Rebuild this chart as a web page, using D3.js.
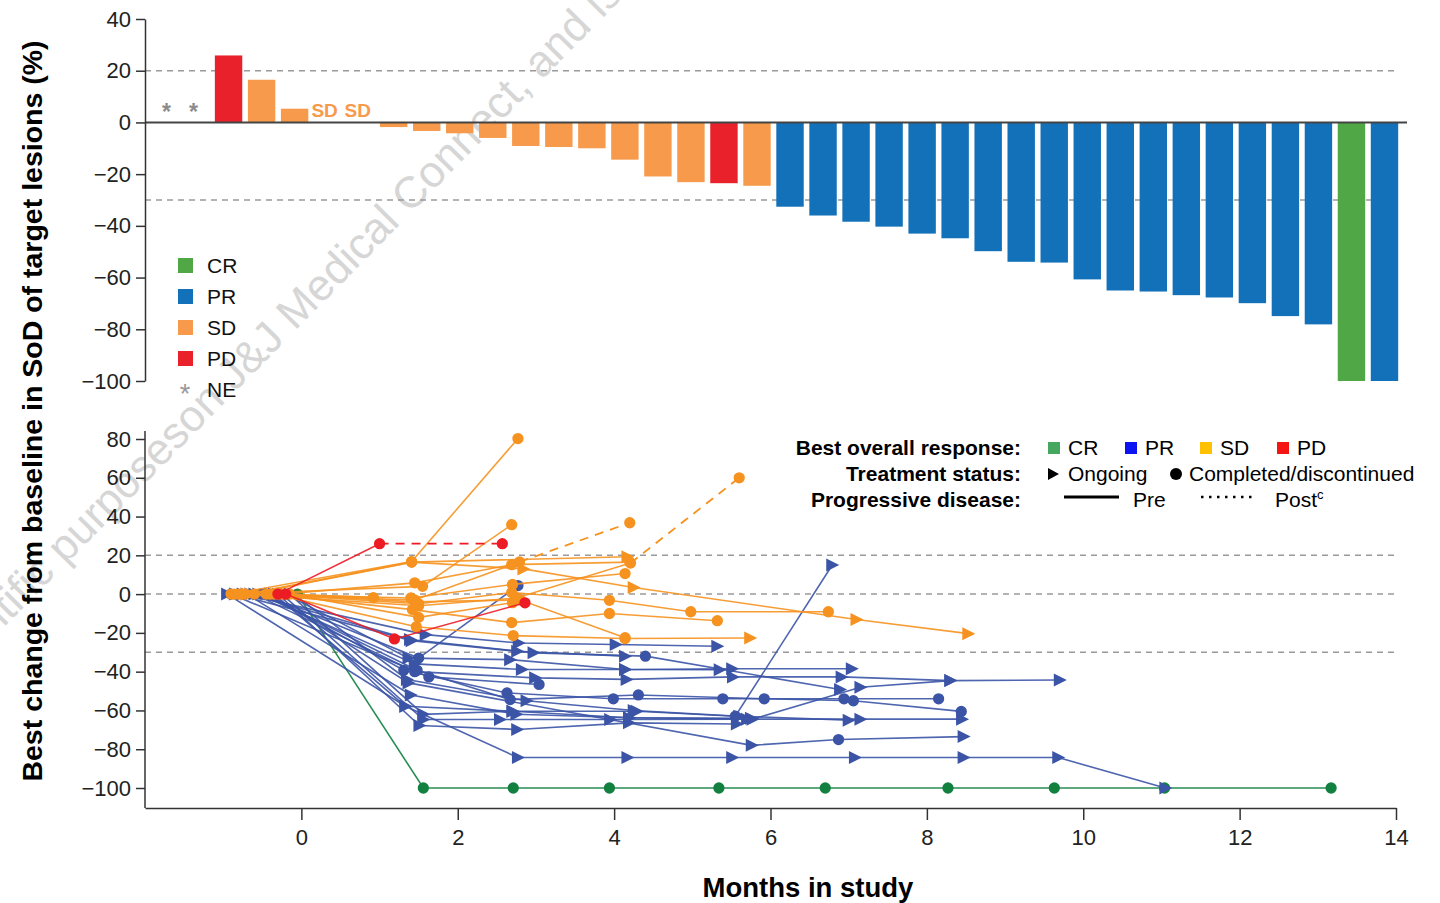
<!DOCTYPE html>
<html>
<head>
  <meta charset="utf-8">
  <script src="https://d3js.org/d3.v7.min.js"></script>
  <style>
    body { margin: 0; background: #fff; }
    text { font-family: "Liberation Sans", Arial, sans-serif; }
  </style>
</head>
<body>
  <div id="chart"></div>
  <script>
    const width = 1440;
    const height = 903;

    // ---- waterfall (top) ----
    const barResp = ["NE", "NE", "PD", "SD", "SD", "SD", "SD",
      "SD", "SD", "SD", "SD", "SD", "SD", "SD", "SD", "SD", "SD", "PD", "SD",
      "PR", "PR", "PR", "PR", "PR", "PR", "PR", "PR", "PR", "PR", "PR", "PR",
      "PR", "PR", "PR", "PR", "PR", "CR", "PR"];
    const barValues = [null, null, 25.9, 16.5, 5.3, null, null,
      -1.8, -3.3, -4.2, -6.0, -9.1, -9.5, -10, -14.4, -20.9, -23.1, -23.5, -24.5,
      -32.6, -36.0, -38.4, -40.3, -43.0, -44.8, -49.8, -53.9, -54.2, -60.7, -65.0, -65.4,
      -66.8, -67.7, -69.9, -74.9, -78.1, -100, -100];
    const barLabels = ["*", "*", "", "", "", "SD", "SD"];
    const topTicks = [40, 20, 0, -20, -40, -60, -80, -100];
    const topRefLines = [20, -30];
    const topLegend = ["CR", "PR", "SD", "PD", "NE"];

    // ---- spider (bottom) ----
    const spiderResp = ["CR",
      "PR", "PR", "PR", "PR", "PR", "PR", "PR", "PR", "PR", "PR", "PR", "PR", "PR", "PR", "PR", "PR", "PR", "PR",
      "SD", "SD", "SD", "SD", "SD", "SD", "SD", "SD", "SD", "SD", "SD", "SD", "SD", "SD",
      "PD", "PD"];
    const spiderMonths = [
      [-0.05, 1.56, 2.71, 3.94, 5.34, 6.70, 8.27, 9.63, 11.04, 13.17],
      [-0.95, 1.33, 2.77, 4.17, 5.51, 7.08, 8.47, 9.68, 11.05],
      [-0.25, 1.56, 2.54, 3.95, 5.7, 7.15, 8.45],
      [-0.3, 1.51, 2.76, 4.19, 5.57],
      [-0.35, 1.33, 2.7, 4.29, 5.55, 6.79],
      [-0.4, 1.37, 5.76, 6.87, 8.47],
      [-0.45, 1.31, 2.63, 3.99, 5.39, 6.94, 8.15],
      [-0.5, 1.48, 2.67, 4.31, 5.92, 7.06, 8.44],
      [-0.55, 1.45, 2.82, 4.14, 5.51, 7.04],
      [-0.6, 1.45, 2.99, 4.16, 5.52, 6.91, 8.3, 9.7],
      [-0.65, 1.39, 2.97, 4.4, 6.89],
      [-0.7, 1.4, 2.75, 4.19, 5.77, 7.15, 8.3],
      [-0.75, 1.59, 2.78, 4.02, 5.32],
      [-0.52, 1.5, 2.77],
      [-0.85, 1.41, 2.76, 4.14],
      [-0.9, 1.63, 3.04],
      [-0.15, 1.56, 2.7, 4.19, 5.75],
      [-0.1, 1.35, 2.88, 4.25, 5.6, 7.0],
      [-0.2, 1.37, 2.67, 4.14, 5.35],
      [-0.9, 1.41, 2.77],
      [-0.85, 1.55, 2.69],
      [-0.8, 1.45, 2.79, 4.2],
      [-0.75, 1.5, 2.75, 4.21, 5.6],
      [-0.7, 1.41, 2.84, 4.25, 7.1, 8.53],
      [-0.65, 1.41, 4.17],
      [-0.6, 1.4, 2.7, 4.14],
      [-0.45, 1.5, 2.69, 3.94, 4.98, 6.74],
      [-0.4, 1.42, 2.69, 3.94, 5.32],
      [-0.35, 1.47, 2.71, 4.14, 5.74],
      [-0.3, 1.45, 2.8, 4.14],
      [-0.25, 1.45, 2.69, 4.2],
      [-0.2, 0.92],
      [-0.15, 1.5, 2.7],
      [-0.3, 1.0, 2.57],
      [-0.2, 1.19, 2.86]
    ];
    const spiderValues = [
      [0, -100, -100, -100, -100, -100, -100, -100, -100, -100],
      [0, -57.8, -84.3, -84.3, -84.3, -84.3, -84.3, -84.3, -100],
      [0, -64.7, -64.7, -64.7, -64.5, -64.5, -64.5],
      [0, -67.8, -69.8, -66.4, -67],
      [0, -57.8, -60.4, -60.4, -63, 15],
      [0, -45.8, -78, -75, -73.5],
      [0, -39.3, -51, -54, -54, -54, -54],
      [0, -39.3, -54.4, -52, -54, -55, -60.5],
      [0, -36, -38.9, -38.9, -38.5, -38.5],
      [0, -40, -43.2, -44, -42.7, -42.7, -44.6, -44.3],
      [0, -23.4, -30.3, -32, -49.2],
      [0, -52, -62, -63.8, -64.5, -48, -44.6],
      [0, -20.9, -25.2, -26, -26.9],
      [0, -33, 4.4],
      [0, -24, -29.5, -32],
      [0, -42.7, -46.6],
      [0, -62, -60.4, -63.8, -64],
      [0, -44, -55, -60, -63, -65],
      [0, -33, -33.8, -38.9, -39],
      [0, 16.8, 80.2],
      [0, 4, 35.8],
      [0, -3, 16.6, 36.8],
      [0, -6, -2, 16, 60],
      [0, 16.5, 13, 3.4, -13.1, -20.4],
      [0, 16.5, 19.3],
      [0, -2, 5, 10.6],
      [0, -5, 0.8, -3.2, -9.1, -9.1],
      [0, -8, -14.7, -10, -13.7],
      [0, -16.8, -21.4, -22.9, -22.6],
      [0, -4, -3, -22.5],
      [0, 5.8, 15.2, 16.5],
      [0, -1.8],
      [0, -12, -4.4],
      [0, 26, 26],
      [0, -23.1, -4.5]
    ];
    // marker per visit: t = ongoing (triangle), c = completed/discontinued (circle)
    const spiderMarks = ["cccccccccc",
      "ttttttttt", "ttttttt", "ttttt", "ttttct", "tttct", "ccccccc", "ccccccc", "tttttt",
      "tctttttt", "tttct", "ttttttt", "ttttt", "ccc", "tttt", "ccc", "ttttt", "tttttt", "ttttt",
      "ccc", "ccc", "cccc", "ccccc", "tctttt", "tct", "cccc", "cccccc", "ccccc", "cccct",
      "cccc", "cccc", "cc", "ccc",
      "ccc", "ccc"];
    // index of the visit after which progression occurred (dashed from there), null if none
    const spiderPostFrom = [null,
      null, null, null, null, null, null, null, null, null, null, null, null, null, null, null, null, null, null,
      null, null, 2, 3, null, null, null, null, null, null, null, null, null, null,
      1, null];
    const bottomYTicks = [80, 60, 40, 20, 0, -20, -40, -60, -80, -100];
    const bottomXTicks = [0, 2, 4, 6, 8, 10, 12, 14];
    const bottomRefLines = [20, 0, -30];
    const legendResp = ["CR", "PR", "SD", "PD"];

    const barColor = { CR: "#4fa845", PR: "#1271b8", SD: "#f79a4b", PD: "#e8212b", NE: "#8c8c8c" };
    const lineColor = { CR: "#128140", PR: "#3b54a6", SD: "#f6921f", PD: "#ed1c24" };
    const legendColor = { CR: "#45a85e", PR: "#0c12f2", SD: "#ffc000", PD: "#f41414" };

    const svg = d3.select("#chart").append("svg")
      .attr("width", width)
      .attr("height", height);

    // watermark
    const wm = svg.append("g")
      .attr("transform", "translate(192,436) rotate(-45.5)")
      .attr("fill", "#d6d6d6")
      .style("font-size", "44px");
    wm.append("text").attr("text-anchor", "end").text("For scientific purposes ");
    wm.append("text").attr("text-anchor", "start").text("on J&J Medical Connect, and is intended");

    // ===== top waterfall =====
    const xT = d3.scaleBand()
      .domain(d3.range(barValues.length))
      .range([146, 1401])
      .paddingInner(0.17)
      .paddingOuter(0.085);
    const yT = d3.scaleLinear().domain([-100, 40]).range([381, 19]);

    const gTop = svg.append("g");

    gTop.selectAll(".refT")
      .data(topRefLines)
      .enter().append("line")
      .attr("x1", 145).attr("x2", 1398)
      .attr("y1", d => yT(d)).attr("y2", d => yT(d))
      .attr("stroke", "#9a9a9a")
      .attr("stroke-width", 1.5)
      .attr("stroke-dasharray", "6,5");

    gTop.selectAll(".bar")
      .data(barValues.map((v, i) => ({ v: v, r: barResp[i], i: i })).filter(d => d.v !== null))
      .enter().append("rect")
      .attr("x", d => xT(d.i))
      .attr("width", xT.bandwidth())
      .attr("y", d => yT(Math.max(0, d.v)))
      .attr("height", d => Math.abs(yT(d.v) - yT(0)))
      .attr("fill", d => barColor[d.r]);

    gTop.selectAll(".barlab")
      .data(barLabels.map((l, i) => ({ l: l, i: i })).filter(d => d.l !== ""))
      .enter().append("text")
      .attr("x", d => xT(d.i) + xT.bandwidth() / 2 + (d.l === "*" ? (d.i === 0 ? 4 : -2) : -3))
      .attr("y", d => d.l === "*" ? yT(0) - 2 : yT(0) - 5)
      .attr("text-anchor", "middle")
      .attr("fill", d => d.l === "*" ? barColor.NE : barColor.SD)
      .style("font-size", d => d.l === "*" ? "23px" : "19px")
      .style("font-weight", "bold")
      .text(d => d.l);

    gTop.append("line")
      .attr("x1", 145).attr("x2", 1407)
      .attr("y1", yT(0)).attr("y2", yT(0))
      .attr("stroke", "#444")
      .attr("stroke-width", 2);

    const axT = gTop.append("g")
      .attr("transform", "translate(145,0)")
      .call(d3.axisLeft(yT).tickValues(topTicks).tickSize(9).tickSizeOuter(0).tickPadding(5));
    axT.selectAll("text").style("font-size", "22px").attr("fill", "#222");
    axT.selectAll("line,path").attr("stroke", "#333").attr("stroke-width", 1.5);

    const lgT = gTop.selectAll(".lgT")
      .data(topLegend)
      .enter().append("g")
      .attr("transform", (d, i) => "translate(178," + (266 + i * 31) + ")");
    lgT.filter(d => d !== "NE").append("rect")
      .attr("x", 0).attr("y", -8).attr("width", 15).attr("height", 15)
      .attr("fill", d => barColor[d]);
    lgT.filter(d => d === "NE").append("text")
      .attr("x", 7).attr("y", 13)
      .attr("text-anchor", "middle")
      .attr("fill", "#999")
      .style("font-size", "27px")
      .text("*");
    lgT.append("text")
      .attr("x", 29).attr("y", 7)
      .style("font-size", "21px")
      .attr("fill", "#111")
      .text(d => d);

    // ===== bottom spider =====
    const xB = d3.scaleLinear().domain([-2, 14]).range([145, 1396]);
    const yB = d3.scaleLinear().domain([-100, 80]).range([788, 439]);

    const gBot = svg.append("g");

    gBot.selectAll(".refB")
      .data(bottomRefLines)
      .enter().append("line")
      .attr("x1", 145).attr("x2", 1397)
      .attr("y1", d => yB(d)).attr("y2", d => yB(d))
      .attr("stroke", "#9a9a9a")
      .attr("stroke-width", 1.5)
      .attr("stroke-dasharray", "6,5");

    const patients = spiderResp.map((r, i) => ({
      r: r,
      pts: spiderMonths[i].map((t, j) => ({ t: t, v: spiderValues[i][j], m: spiderMarks[i][j] })),
      post: spiderPostFrom[i]
    }));
    const order = { CR: 0, PR: 1, SD: 2, PD: 3 };
    patients.sort((a, b) => order[a.r] - order[b.r]);

    const line = d3.line().x(d => xB(d.t)).y(d => yB(d.v));
    const tri = "M-6,-6.5L7,0L-6,6.5Z";

    const pg = gBot.selectAll(".pat")
      .data(patients)
      .enter().append("g");

    pg.append("path")
      .attr("d", d => line(d.post === null ? d.pts : d.pts.slice(0, d.post + 1)))
      .attr("fill", "none")
      .attr("stroke", d => lineColor[d.r])
      .attr("stroke-opacity", 0.9)
      .attr("stroke-width", 1.6);

    pg.filter(d => d.post !== null).append("path")
      .attr("d", d => line(d.pts.slice(d.post)))
      .attr("fill", "none")
      .attr("stroke", d => lineColor[d.r])
      .attr("stroke-width", 1.8)
      .attr("stroke-dasharray", "9,7");

    pg.each(function(d) {
      const g = d3.select(this);
      g.selectAll(".mk")
        .data(d.pts)
        .enter().append("path")
        .attr("transform", p => "translate(" + xB(p.t) + "," + yB(p.v) + ")")
        .attr("d", p => p.m === "t" ? tri : d3.symbol().type(d3.symbolCircle).size(100)())
        .attr("fill", lineColor[d.r]);
    });

    const axBy = gBot.append("g")
      .attr("transform", "translate(145,0)")
      .call(d3.axisLeft(yB).tickValues(bottomYTicks).tickSize(9).tickSizeOuter(0).tickPadding(5));
    axBy.select(".domain").remove();
    axBy.selectAll("text").style("font-size", "22px").attr("fill", "#222");
    axBy.selectAll("line").attr("stroke", "#333").attr("stroke-width", 1.5);
    gBot.append("line")
      .attr("x1", 145).attr("x2", 145)
      .attr("y1", yB(80) - 8).attr("y2", 808)
      .attr("stroke", "#333").attr("stroke-width", 1.5);

    const axBx = gBot.append("g")
      .attr("transform", "translate(0,808)")
      .call(d3.axisBottom(xB).tickValues(bottomXTicks).tickSize(12).tickSizeOuter(0).tickPadding(9)
        .tickFormat(d3.format("d")));
    axBx.selectAll("text").style("font-size", "22px").attr("fill", "#222");
    axBx.selectAll("line,path").attr("stroke", "#333").attr("stroke-width", 1.5);

    // axis titles
    svg.append("text")
      .attr("x", 808).attr("y", 897)
      .attr("text-anchor", "middle")
      .style("font-size", "27.5px").style("font-weight", "bold")
      .text("Months in study");
    svg.append("text")
      .attr("transform", "translate(42,411) rotate(-90)")
      .attr("text-anchor", "middle")
      .style("font-size", "28.5px").style("font-weight", "bold")
      .text("Best change from baseline in SoD of target lesions (%)");

    // bottom legend
    const lg = svg.append("g").style("font-size", "21px");
    const rowY = [455, 481, 507];
    lg.selectAll(".lgh")
      .data(["Best overall response:", "Treatment status:", "Progressive disease:"])
      .enter().append("text")
      .attr("x", 1021).attr("y", (d, i) => rowY[i])
      .attr("text-anchor", "end")
      .style("font-weight", "bold")
      .text(d => d);

    const respX = [1048, 1125, 1200, 1277];
    const lr = lg.selectAll(".lr")
      .data(legendResp)
      .enter().append("g")
      .attr("transform", (d, i) => "translate(" + respX[i] + "," + rowY[0] + ")");
    lr.append("rect").attr("x", 0).attr("y", -13).attr("width", 12).attr("height", 12)
      .attr("fill", d => legendColor[d]);
    lr.append("text").attr("x", 20).attr("y", 0).text(d => d);

    lg.append("path").attr("d", "M1048,-13L1059,-7L1048,-1Z")
      .attr("transform", "translate(0," + rowY[1] + ")").attr("fill", "#000");
    lg.append("text").attr("x", 1068).attr("y", rowY[1]).text("Ongoing");
    lg.append("circle").attr("cx", 1176).attr("cy", rowY[1] - 7).attr("r", 6).attr("fill", "#000");
    lg.append("text").attr("x", 1189).attr("y", rowY[1]).text("Completed/discontinued");

    lg.append("line").attr("x1", 1064).attr("x2", 1119).attr("y1", rowY[2] - 10).attr("y2", rowY[2] - 10)
      .attr("stroke", "#000").attr("stroke-width", 3);
    lg.append("text").attr("x", 1133).attr("y", rowY[2]).text("Pre");
    lg.append("line").attr("x1", 1201).attr("x2", 1256).attr("y1", rowY[2] - 10).attr("y2", rowY[2] - 10)
      .attr("stroke", "#000").attr("stroke-width", 2.5).attr("stroke-dasharray", "2.5,5.5");
    const post = lg.append("text").attr("x", 1275).attr("y", rowY[2]).text("Post");
    post.append("tspan").attr("dy", -8).style("font-size", "13px").text("c");
  </script>
</body>
</html>
